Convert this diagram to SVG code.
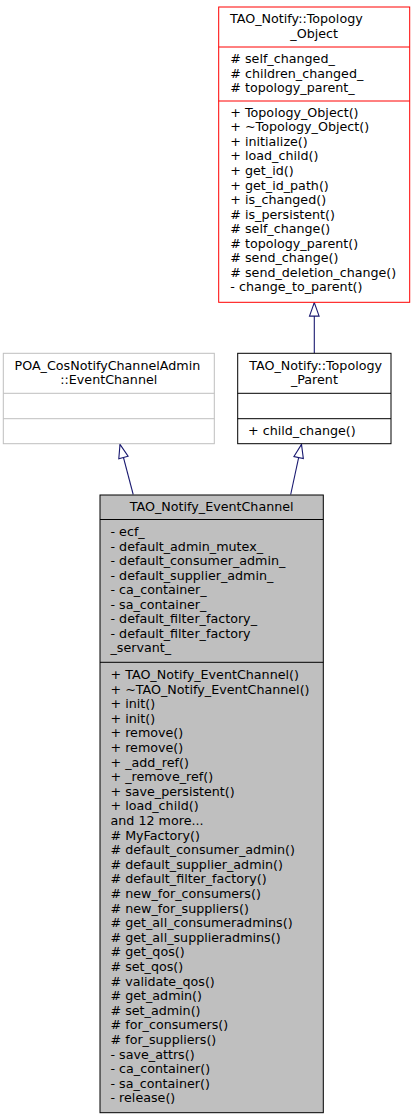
<svg xmlns="http://www.w3.org/2000/svg" width="415" height="1120" viewBox="0 0 415 1120">
<style>
text{font-family:"DejaVu Sans","Liberation Sans",sans-serif;font-size:12.7px;fill:#000}
.c{text-anchor:middle}
.box{fill:#fff;stroke-width:1}
.red{stroke:#ff0000}
.gray{stroke:#bfbfbf}
.blk{stroke:#000}
.main{fill:#bfbfbf;stroke:#000;stroke-width:1}
.div{stroke-width:1}
.edge{fill:none;stroke:#191970;stroke-width:1.1;marker-end:url(#arr)}
</style>
<defs>
<marker id="arr" markerUnits="userSpaceOnUse" markerWidth="16" markerHeight="12" viewBox="0 0 16 12" refX="14.5" refY="6" orient="auto" overflow="visible">
<path d="M1,1.2 L14.5,6 L1,10.8 Z" fill="#fff" stroke="#191970" stroke-width="1.1"/>
</marker>
</defs>
<rect width="415" height="1120" fill="#fff"/>

<g id="connectors">
<line class="edge" x1="314.3" y1="353.3" x2="314.3" y2="302.6"/>
<line class="edge" x1="133.2" y1="494.5" x2="120" y2="444.4"/>
<line class="edge" x1="290.7" y1="494.5" x2="301.5" y2="444.4"/>
</g>

<g id="topology_object">
<rect class="box red" x="218.7" y="7" width="191" height="295.3"/>
<line class="div red" x1="218.7" y1="47" x2="409.7" y2="47"/>
<line class="div red" x1="218.7" y1="101" x2="409.7" y2="101"/>
<text x="230" y="23.3">TAO_Notify::Topology</text>
<text class="c" x="314.2" y="37.9">_Object</text>
<text x="230.3" y="63">#&#160;self_changed_</text>
<text x="230.3" y="77.5">#&#160;children_changed_</text>
<text x="230.3" y="92">#&#160;topology_parent_</text>
<text x="230.3" y="116.8">+&#160;Topology_Object()</text>
<text x="230.3" y="131.35">+&#160;~Topology_Object()</text>
<text x="230.3" y="145.9">+&#160;initialize()</text>
<text x="230.3" y="160.45">+&#160;load_child()</text>
<text x="230.3" y="175">+&#160;get_id()</text>
<text x="230.3" y="189.55">+&#160;get_id_path()</text>
<text x="230.3" y="204.1">+&#160;is_changed()</text>
<text x="230.3" y="218.65">#&#160;is_persistent()</text>
<text x="230.3" y="233.2">#&#160;self_change()</text>
<text x="230.3" y="247.75">#&#160;topology_parent()</text>
<text x="230.3" y="262.3">#&#160;send_change()</text>
<text x="230.3" y="276.85">#&#160;send_deletion_change()</text>
<text x="230.3" y="291.4">-&#160;change_to_parent()</text>
</g>

<g id="poa_eventchannel">
<rect class="box gray" x="3.3" y="353.3" width="211" height="90.4"/>
<line class="div gray" x1="3.3" y1="393.3" x2="214.3" y2="393.3"/>
<line class="div gray" x1="3.3" y1="418.7" x2="214.3" y2="418.7"/>
<text x="14.5" y="369.6">POA_CosNotifyChannelAdmin</text>
<text class="c" x="108.8" y="384.1">::EventChannel</text>
</g>

<g id="topology_parent">
<rect class="box blk" x="237.7" y="353.3" width="153.3" height="90.4"/>
<line class="div blk" x1="237.7" y1="393.3" x2="391" y2="393.3"/>
<line class="div blk" x1="237.7" y1="418.7" x2="391" y2="418.7"/>
<text x="249.3" y="369.6">TAO_Notify::Topology</text>
<text class="c" x="314.4" y="384.1">_Parent</text>
<text x="248" y="434.7">+&#160;child_change()</text>
</g>

<g id="tao_notify_eventchannel">
<rect class="main" x="100" y="495" width="223.3" height="617.7"/>
<line class="div blk" x1="100" y1="519.5" x2="323.3" y2="519.5"/>
<line class="div blk" x1="100" y1="662.3" x2="323.3" y2="662.3"/>
<text class="c" x="211.7" y="511.3">TAO_Notify_EventChannel</text>
<text x="110.5" y="536">-&#160;ecf_</text>
<text x="110.5" y="550.55">-&#160;default_admin_mutex_</text>
<text x="110.5" y="565.1">-&#160;default_consumer_admin_</text>
<text x="110.5" y="579.65">-&#160;default_supplier_admin_</text>
<text x="110.5" y="594.2">-&#160;ca_container_</text>
<text x="110.5" y="608.75">-&#160;sa_container_</text>
<text x="110.5" y="623.3">-&#160;default_filter_factory_</text>
<text x="110.5" y="637.85">-&#160;default_filter_factory</text>
<text x="110.5" y="652.4">_servant_</text>
<text x="110.5" y="679">+&#160;TAO_Notify_EventChannel()</text>
<text x="110.5" y="693.6">+&#160;~TAO_Notify_EventChannel()</text>
<text x="110.5" y="708.2">+&#160;init()</text>
<text x="110.5" y="722.8">+&#160;init()</text>
<text x="110.5" y="737.4">+&#160;remove()</text>
<text x="110.5" y="752">+&#160;remove()</text>
<text x="110.5" y="766.6">+&#160;_add_ref()</text>
<text x="110.5" y="781.2">+&#160;_remove_ref()</text>
<text x="110.5" y="795.8">+&#160;save_persistent()</text>
<text x="110.5" y="810.4">+&#160;load_child()</text>
<text x="110.5" y="825">and 12 more...</text>
<text x="110.5" y="839.6">#&#160;MyFactory()</text>
<text x="110.5" y="854.2">#&#160;default_consumer_admin()</text>
<text x="110.5" y="868.8">#&#160;default_supplier_admin()</text>
<text x="110.5" y="883.4">#&#160;default_filter_factory()</text>
<text x="110.5" y="898">#&#160;new_for_consumers()</text>
<text x="110.5" y="912.6">#&#160;new_for_suppliers()</text>
<text x="110.5" y="927.2">#&#160;get_all_consumeradmins()</text>
<text x="110.5" y="941.8">#&#160;get_all_supplieradmins()</text>
<text x="110.5" y="956.4">#&#160;get_qos()</text>
<text x="110.5" y="971">#&#160;set_qos()</text>
<text x="110.5" y="985.6">#&#160;validate_qos()</text>
<text x="110.5" y="1000.2">#&#160;get_admin()</text>
<text x="110.5" y="1014.8">#&#160;set_admin()</text>
<text x="110.5" y="1029.4">#&#160;for_consumers()</text>
<text x="110.5" y="1044">#&#160;for_suppliers()</text>
<text x="110.5" y="1058.6">-&#160;save_attrs()</text>
<text x="110.5" y="1073.2">-&#160;ca_container()</text>
<text x="110.5" y="1087.8">-&#160;sa_container()</text>
<text x="110.5" y="1102.4">-&#160;release()</text>
</g>
</svg>
